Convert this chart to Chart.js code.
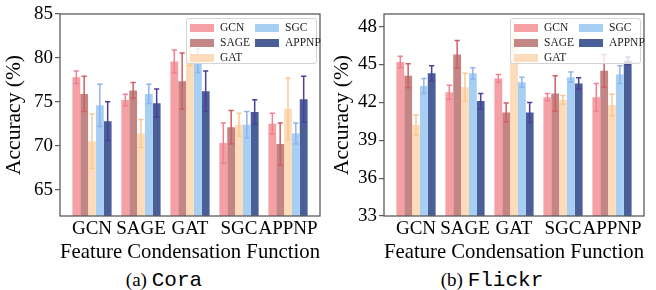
<!DOCTYPE html>
<html>
<head>
<meta charset="utf-8">
<script src="https://cdn.jsdelivr.net/npm/chart.js@4.4.1/dist/chart.umd.min.js"></script>
<style>
	html, body { margin: 0; padding: 0; background: #fff; }
	#wrap { position: relative; width: 656px; height: 290px; overflow: hidden; }
	#wrap canvas { position: absolute; top: 0; }
	.legend {
		position: absolute; box-sizing: border-box;
		border: 1px solid #d4d4d4; border-radius: 3px;
		background: rgba(255, 255, 255, 0.8);
		font-family: 'Liberation Serif', 'Times New Roman', serif;
		font-size: 11.5px; color: #222;
	}
	.legend .item { position: absolute; height: 15px; line-height: 15px; white-space: nowrap; }
	.legend .sw { display: inline-block; width: 24px; height: 8px; vertical-align: -1px; margin-right: 6px; }
	.caption {
		position: absolute; top: 268px; width: 328px; height: 24px; line-height: 24px;
		text-align: center; color: #000;
		font-family: 'Liberation Serif', 'Times New Roman', serif; font-size: 19px;
	}
	.caption .mono { font-family: 'Liberation Mono', 'DejaVu Sans Mono', monospace; font-size: 21px; }
</style>
</head>
<body>
<div id="wrap">
	<canvas id="cora" width="328" height="265" style="left:0"></canvas>
	<canvas id="flickr" width="328" height="265" style="left:328px"></canvas>
	<div class="caption" style="left:0">(a) <span class="mono">Cora</span></div>
	<div class="caption" style="left:328px">(b) <span class="mono">Flickr</span></div>
</div>
<script>
const categories = ['GCN', 'SAGE', 'GAT', 'SGC', 'APPNP'];
const seriesNames = ['GCN', 'SAGE', 'GAT', 'SGC', 'APPNP'];
const barColors = ['#f4a0a4', '#c48585', '#fddcbb', '#a7cef3', '#4a5f98'];
const errColors = ['#f27f93', '#d05f62', '#fcc890', '#8db3f0', '#4b3f9c'];

// Cora
const coraGCN = [77.8, 75.2, 79.6, 70.3, 72.5];
const coraGCNErr = [0.7, 0.65, 1.3, 2.3, 1.2];
const coraSAGE = [75.9, 76.3, 77.35, 72.1, 70.2];
const coraSAGEErr = [2.0, 0.9, 3.2, 1.9, 2.4];
const coraGAT = [70.5, 71.4, 80.2, 72.4, 74.2];
const coraGATErr = [3.1, 1.6, 1.1, 1.3, 3.5];
const coraSGC = [74.6, 75.9, 79.7, 72.4, 71.4];
const coraSGCErr = [2.4, 1.1, 1.35, 1.5, 1.2];
const coraAPPNP = [72.8, 74.85, 76.2, 73.85, 75.3];
const coraAPPNPErr = [2.2, 1.6, 2.3, 1.4, 2.6];
const coraTicks = [65, 70, 75, 80, 85];

// Flickr
const flickrGCN = [45.2, 42.8, 43.9, 42.4, 42.4];
const flickrGCNErr = [0.45, 0.55, 0.3, 0.3, 1.1];
const flickrSAGE = [44.1, 45.8, 41.2, 42.7, 44.5];
const flickrSAGEErr = [0.95, 1.1, 0.75, 1.4, 1.3];
const flickrGAT = [40.2, 43.2, 47.4, 42.2, 41.8];
const flickrGATErr = [0.8, 1.1, 0.9, 0.35, 0.85];
const flickrSGC = [43.3, 44.3, 43.6, 44.0, 44.2];
const flickrSGCErr = [0.6, 0.45, 0.4, 0.4, 0.7];
const flickrAPPNP = [44.3, 42.1, 41.2, 43.5, 45.3];
const flickrAPPNPErr = [0.6, 0.6, 0.8, 0.45, 0.3];
const flickrTicks = [33, 36, 39, 42, 45, 48];

const serif = "'Liberation Serif', 'Times New Roman', serif";
Chart.defaults.font.family = serif;
Chart.defaults.color = '#000';

const errorBars = {
	id: 'errorBars',
	afterDatasetsDraw(chart) {
		const {ctx} = chart, y = chart.scales.y;
		chart.data.datasets.forEach((ds, i) => {
			const meta = chart.getDatasetMeta(i);
			ctx.save();
			ctx.strokeStyle = ds.errColor;
			ctx.lineWidth = 1.5;
			meta.data.forEach((bar, j) => {
				const v = ds.data[j].y, e = ds.errors[j];
				const top = y.getPixelForValue(v + e), bot = y.getPixelForValue(v - e);
				ctx.beginPath();
				ctx.moveTo(bar.x, top); ctx.lineTo(bar.x, bot);
				ctx.moveTo(bar.x - 2.6, top); ctx.lineTo(bar.x + 2.6, top);
				ctx.moveTo(bar.x - 2.6, bot); ctx.lineTo(bar.x + 2.6, bot);
				ctx.stroke();
			});
			ctx.restore();
		});
	}
};

const frame = {
	id: 'frame',
	afterDatasetsDraw(chart) {
		const {ctx, chartArea: a} = chart;
		ctx.save();
		ctx.strokeStyle = '#5c5c5c';
		ctx.lineWidth = 1.3;
		ctx.strokeRect(a.left, a.top, a.right - a.left, a.bottom - a.top);
		ctx.restore();
	}
};

function makeChart(id, means, errs, yMin, yMax, yTicks, yWidth, rightPad) {
	const chart = new Chart(document.getElementById(id), {
		type: 'bar',
		data: {
			datasets: seriesNames.map((name, i) => ({
				label: name,
				data: means[i].map((v, j) => ({x: j, y: v})),
				errors: errs[i],
				errColor: errColors[i],
				backgroundColor: barColors[i],
				borderWidth: 0,
				categoryPercentage: 0.8,
				barPercentage: 1
			}))
		},
		options: {
			responsive: false,
			animation: false,
			devicePixelRatio: 1,
			layout: {padding: {left: 0, right: rightPad, top: 14, bottom: 0}},
			plugins: {legend: {display: false}, tooltip: {enabled: false}},
			scales: {
				x: {
					type: 'linear', min: -0.653, max: 4.653, offset: false,
					afterBuildTicks: s => { s.ticks = categories.map((c, i) => ({value: i})); },
					afterFit: s => { s.height = 49; },
					grid: {display: false, drawTicks: false},
					border: {display: false},
					ticks: {
						color: '#000', padding: 2, autoSkip: false, maxRotation: 0,
						font: {size: 19},
						callback: v => categories[v]
					},
					title: {display: true, text: 'Feature Condensation Function', color: '#000', font: {size: 22}, padding: 0}
				},
				y: {
					min: yMin, max: yMax,
					afterBuildTicks: s => { s.ticks = yTicks.map(v => ({value: v})); },
					afterFit: s => { s.width = yWidth; },
					grid: {drawOnChartArea: false, drawTicks: true, tickLength: 5, color: '#5c5c5c', lineWidth: 1.2},
					border: {display: false},
					ticks: {color: '#000', padding: 2, font: {size: 19}},
					title: {display: true, text: 'Accuracy (%)', color: '#000', font: {size: 21.5}, padding: {top: 1, bottom: 0}}
				}
			}
		},
		plugins: [errorBars, frame]
	});

	// legend box inside the top-right corner of the plot
	const a = chart.chartArea, canvas = chart.canvas;
	const box = document.createElement('div');
	box.className = 'legend';
	box.style.width = '131px';
	box.style.height = '46px';
	box.style.left = (canvas.offsetLeft + a.right - 3 - 131) + 'px';
	box.style.top = (a.top + 4) + 'px';
	const order = [[0, 0], [1, 0], [2, 0], [0, 1], [1, 1]];
	seriesNames.forEach((name, i) => {
		const [row, col] = order[i];
		const item = document.createElement('div');
		item.className = 'item';
		item.style.left = (col ? 68 : 3) + 'px';
		item.style.top = (1 + row * 15) + 'px';
		const sw = document.createElement('span');
		sw.className = 'sw';
		sw.style.background = barColors[i];
		item.appendChild(sw);
		item.appendChild(document.createTextNode(name));
		box.appendChild(item);
	});
	document.getElementById('wrap').appendChild(box);
	return chart;
}

makeChart('cora',
	[coraGCN, coraSAGE, coraGAT, coraSGC, coraAPPNP],
	[coraGCNErr, coraSAGEErr, coraGATErr, coraSGCErr, coraAPPNPErr],
	62, 85, coraTicks, 60, 8);

makeChart('flickr',
	[flickrGCN, flickrSAGE, flickrGAT, flickrSGC, flickrAPPNP],
	[flickrGCNErr, flickrSAGEErr, flickrGATErr, flickrSGCErr, flickrAPPNPErr],
	33, 49, flickrTicks, 56, 12);
</script>
</body>
</html>
